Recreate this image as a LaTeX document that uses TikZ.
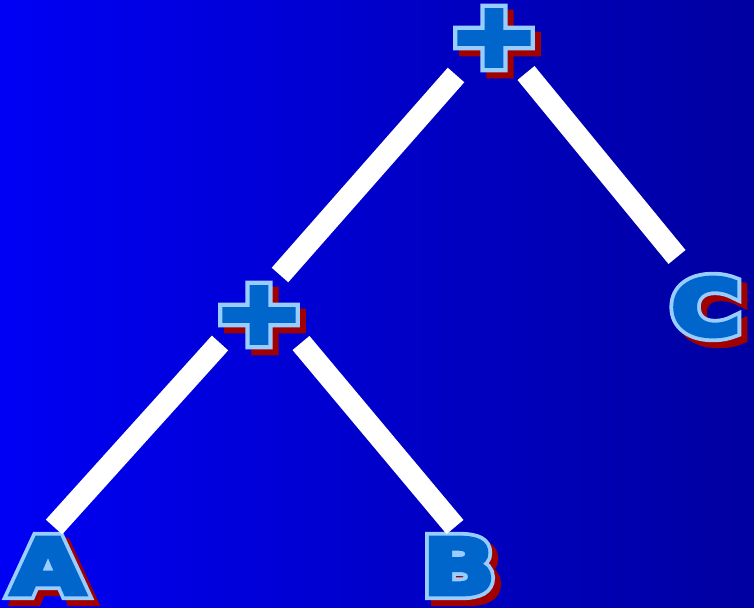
\documentclass[tikz,border=0pt]{standalone}
\usepackage{fontspec}
\usetikzlibrary{
    positioning,
    calc
}

% couleurs
\definecolor{bgleft}{RGB}{0,0,245}
\definecolor{bgright}{RGB}{0,0,160}
\definecolor{letterblue}{RGB}{0,102,204}
\definecolor{rimblue}{RGB}{153,204,255}
\definecolor{shadowred}{RGB}{160,0,0}

\newfontfamily\fillfont{DejaVu Sans Bold}[FakeBold=7, FakeStretch=1.25]
\newfontfamily\rimfont{DejaVu Sans Bold}[FakeBold=17, FakeStretch=1.25]

% lettre en trois couches : ombre, contour, remplissage
\newcommand{\layered}[1]{%
    \makebox[0pt][l]{\hspace*{6pt}\raisebox{-6pt}{\rimfont\color{shadowred}#1}}%
    \makebox[0pt][l]{\rimfont\color{rimblue}#1}%
    {\fillfont\color{letterblue}#1}%
}

\begin{document}
\begin{tikzpicture}[x=1pt, y=1pt]

    % --- Styles ---
    \tikzset{
        term/.style={inner sep=0pt, font=\fontsize{76}{76}\selectfont},
        opterm/.style={term, font=\fontsize{86}{86}\selectfont},
        branch/.style={draw=white, line width=22pt}
    }

    % --- Fond ---
    \useasboundingbox (0,0) rectangle (754,607);
    \shade[left color=bgleft, right color=bgright] (0,0) rectangle (754,607);

    % --- Noeuds de l'arbre ---
    \node[opterm] (top) at (494,566) {\layered{+}};
    \node[opterm] (mid) at (259,289) {\layered{+}};
    \node[term]   (c)   at (706,297) {\layered{C}};
    \node[term]   (a)   at (48,38)   {\layered{A}};
    \node[term]   (b)   at (459,38)  {\layered{B}};

    % --- Branches ---
    \draw[branch] ($(top)+(-38,-34)$) -- ($(mid)+(21,43)$);
    \draw[branch] ($(top)+(32,-32)$)  -- ($(c)+(-29,53)$);
    \draw[branch] ($(mid)+(-39,-25)$) -- ($(a)+(6,42)$);
    \draw[branch] ($(mid)+(42,-25)$)  -- ($(b)+(-4,42)$);

\end{tikzpicture}
\end{document}
